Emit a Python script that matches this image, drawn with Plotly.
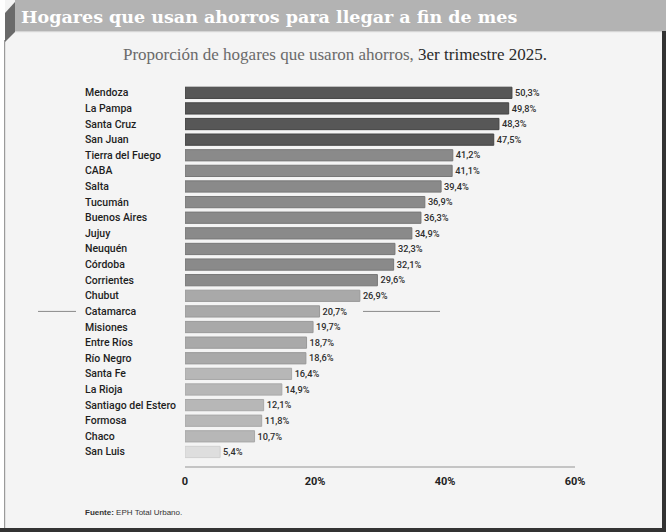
import plotly.graph_objects as go

provinces = ["Mendoza", "La Pampa", "Santa Cruz", "San Juan", "Tierra del Fuego", "CABA",
             "Salta", "Tucumán", "Buenos Aires", "Jujuy", "Neuquén", "Córdoba", "Corrientes",
             "Chubut", "Catamarca", "Misiones", "Entre Ríos", "Río Negro", "Santa Fe",
             "La Rioja", "Santiago del Estero", "Formosa", "Chaco", "San Luis"]
values = [50.3, 49.8, 48.3, 47.5, 41.2, 41.1, 39.4, 36.9, 36.3, 34.9, 32.3, 32.1, 29.6,
          26.9, 20.7, 19.7, 18.7, 18.6, 16.4, 14.9, 12.1, 11.8, 10.7, 5.4]
tick_vals = [0, 20, 40, 60]
tick_text = ["0", "20%", "40%", "60%"]
title = "Hogares que usan ahorros para llegar a fin de mes"
subtitle_a = "Proporción de hogares que usaron ahorros,"
subtitle_b = "3er trimestre 2025."
source = "EPH Total Urbano."

# style
bar_colors = (["#575757"] * 4 + ["#8a8a8a"] * 9 + ["#a9a9a9"] * 5 + ["#b7b7b7"] * 5 + ["#dedede"])
line_colors = (["#444444"] * 4 + ["#777777"] * 9 + ["#999999"] * 5 + ["#a8a8a8"] * 5 + ["#d0d0d0"])

W, H = 666, 532
L, R, T, B = 185, 575, 85, 466


def px(x):
    return (x - L) / (R - L)


def py(y):
    return (B - y) / (B - T)


labels = [f"{v:.1f}".replace(".", ",") + "%" for v in values]

fig = go.Figure(go.Bar(
    x=values, y=provinces, orientation="h",
    marker=dict(color=bar_colors, line=dict(color=line_colors, width=1)),
    width=0.72,
    text=labels, textposition="outside", cliponaxis=False,
    textfont=dict(family="Roboto, Liberation Sans", size=11.5, color="#2e2e2e", weight=500),
    hoverinfo="skip",
))

shapes = []
# panel border pieces
shapes.append(dict(type="rect", xref="paper", yref="paper", x0=px(0), x1=px(5), y0=py(532), y1=py(0),
                   fillcolor="#ffffff", line_width=0, layer="below"))
shapes.append(dict(type="rect", xref="paper", yref="paper", x0=px(4), x1=px(5.2), y0=py(528), y1=py(40),
                   fillcolor="#9a9a9a", line_width=0, layer="below"))
shapes.append(dict(type="rect", xref="paper", yref="paper", x0=px(662), x1=px(666), y0=py(532), y1=py(31),
                   fillcolor="#333333", line_width=0, layer="below"))
shapes.append(dict(type="rect", xref="paper", yref="paper", x0=px(0), x1=px(666), y0=py(532), y1=py(528),
                   fillcolor="#333333", line_width=0, layer="below"))
# title band
shapes.append(dict(type="rect", xref="paper", yref="paper", x0=px(15), x1=px(666), y0=py(31), y1=py(0),
                   fillcolor="#b3b3b3", line_width=0, layer="below"))
shapes.append(dict(type="rect", xref="paper", yref="paper", x0=px(15), x1=px(662), y0=py(32.2), y1=py(31),
                   fillcolor="#d5d5d5", line_width=0, layer="below"))
# folded corner
pts = [(5, 13), (15, 2), (15, 32), (5, 42)]
path = "M " + " L ".join(f"{px(a)},{py(b)}" for a, b in pts) + " Z"
shapes.append(dict(type="path", xref="paper", yref="paper", path=path,
                   fillcolor="#6a6a6a", line_width=0, layer="below"))
# separator lines at Catamarca
shapes.append(dict(type="line", xref="paper", yref="y", x0=px(38), x1=px(76), y0="Catamarca", y1="Catamarca",
                   line=dict(color="#8a8a8a", width=1)))
shapes.append(dict(type="line", xref="paper", yref="y", x0=px(363), x1=px(440), y0="Catamarca", y1="Catamarca",
                   line=dict(color="#8a8a8a", width=1)))

annotations = []
for p in provinces:
    annotations.append(dict(x=px(83), xref="paper", y=p, yref="y", text=p, showarrow=False,
                            xanchor="left", yanchor="middle",
                            font=dict(family="Roboto, Liberation Sans", size=10.5, color="#1e1e1e", weight=500)))
annotations.append(dict(x=px(19), xref="paper", y=py(17), yref="paper", text=f"<b>{title}</b>",
                        showarrow=False, xanchor="left", yanchor="middle",
                        font=dict(family="DejaVu Serif", size=17.5, color="#ffffff")))
annotations.append(dict(x=px(335), xref="paper", y=py(55), yref="paper",
                        text=f"<span style='color:#6a6a6a'>{subtitle_a}</span> {subtitle_b}",
                        showarrow=False, xanchor="center", yanchor="middle",
                        font=dict(family="Liberation Serif", size=17, color="#2a2a2a")))
annotations.append(dict(x=px(83), xref="paper", y=py(512), yref="paper",
                        text=f"<b>Fuente:</b> {source}", showarrow=False, xanchor="left", yanchor="middle",
                        font=dict(family="Liberation Sans, Arial", size=8, color="#333333")))

fig.update_layout(
    width=W, height=H,
    margin=dict(l=L, r=W - R, t=T, b=H - B, pad=0),
    paper_bgcolor="#f4f4f4", plot_bgcolor="rgba(0,0,0,0)",
    showlegend=False,
    shapes=shapes, annotations=annotations,
    xaxis=dict(range=[0, 60], tickvals=tick_vals, ticktext=tick_text, showgrid=False, zeroline=False,
               showline=True, linecolor="#c4c4c4", linewidth=2, ticks="",
               ticklabelstandoff=4,
               tickfont=dict(family="Roboto, Liberation Sans", size=11, color="#222222", weight="bold")),
    yaxis=dict(categoryorder="array", categoryarray=provinces, range=[23.9, -0.5],
               showticklabels=False, showgrid=False, zeroline=False, showline=False, ticks=""),
    bargap=0.3,
)

fig.write_html("out.html")
